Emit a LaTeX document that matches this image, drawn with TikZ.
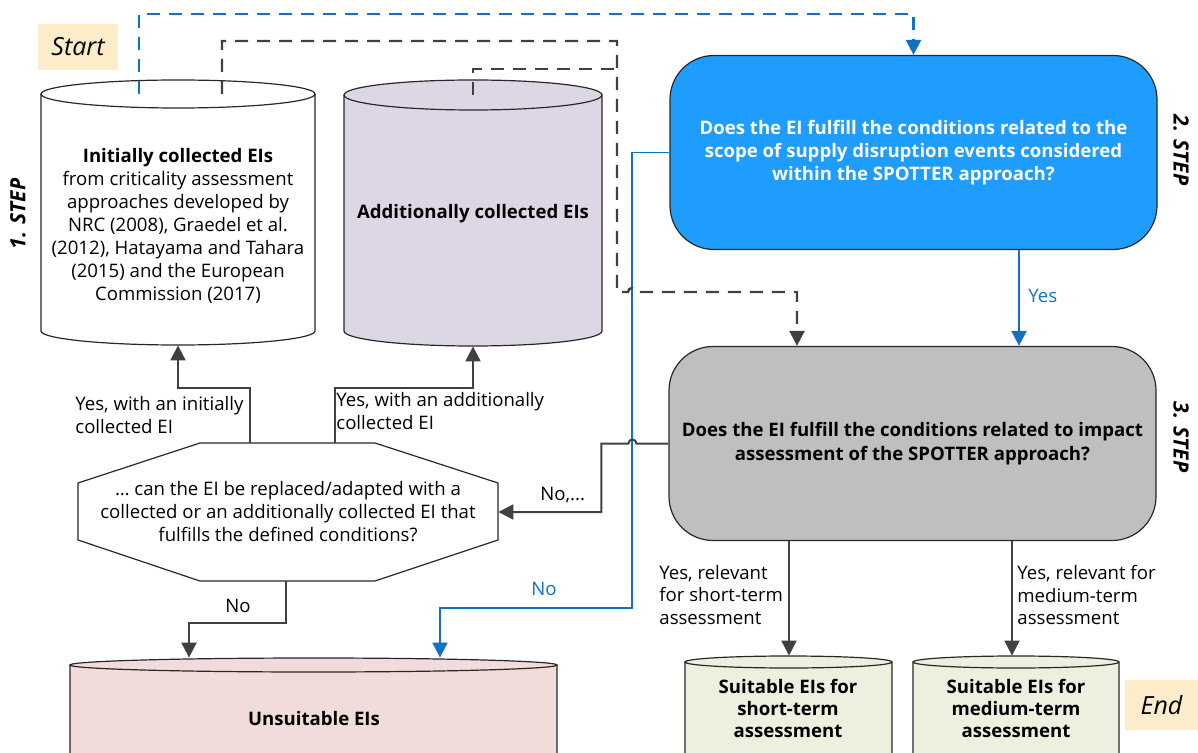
\documentclass[tikz,border=0pt]{standalone}
\usepackage{fontspec}
\setmainfont{Open Sans}
\usetikzlibrary{arrows.meta}

\definecolor{bluefill}{RGB}{31,157,255}
\definecolor{blueline}{RGB}{16,114,196}
\definecolor{darkline}{RGB}{64,64,64}
\definecolor{grayfill}{RGB}{191,191,191}
\definecolor{lavender}{RGB}{221,215,229}
\definecolor{rosefill}{RGB}{242,220,219}
\definecolor{greenfill}{RGB}{235,241,222}
\definecolor{tagfill}{RGB}{253,236,201}
\definecolor{outline}{RGB}{40,40,40}

% drum (cylinder): name, x left, x right, y of top ellipse centre,
% y of bottom ellipse centre, ellipse half height, fill colour
\newcommand\drumshape[7]{%
  \pgfmathsetmacro\drumrx{(#3-#2)/4}%
  \pgfmathsetmacro\drumry{#6/2}%
  \pgfmathsetmacro\drumcx{(#2+#3)/2}%
  \pgfmathsetmacro\drumcy{(#4+#5)/2}%
  \pgfmathsetmacro\drumw{(#3-#2)/2}%
  \pgfmathsetmacro\drumh{(#5-#4+2*#6)/2}%
  \fill[#7] (#2,#4) rectangle (#3,#5);
  \fill[#7] (\drumcx,#5) ellipse[x radius=\drumrx pt, y radius=\drumry pt];
  \draw[drumline] (#2,#4) -- (#2,#5)
    arc[start angle=180, end angle=360, x radius=\drumrx pt, y radius=\drumry pt]
    -- (#3,#4);
  \draw[drumline, fill=#7] (\drumcx,#4) ellipse[x radius=\drumrx pt, y radius=\drumry pt];
  \coordinate (#1-top) at (\drumcx,#4);
  \node[inner sep=0, minimum width=\drumw pt, minimum height=\drumh pt] (#1) at (\drumcx,\drumcy) {};
}

\begin{document}
\begin{tikzpicture}[x=0.5pt, y=-0.5pt,
  body/.style={font=\fontsize{9.3}{11.5}\selectfont, align=center, inner sep=0},
  bodyleft/.style={font=\fontsize{9.3}{11.3}\selectfont, align=left, inner sep=0},
  boldbody/.style={font=\fontsize{9.3}{11.5}\selectfont\bfseries, align=center, inner sep=0},
  drumline/.style={draw=outline, line width=0.6pt},
  tip/.style={-{Triangle[length=7.5pt, width=7.5pt]}},
  grayline/.style={draw=darkline, line width=1pt, tip},
  graydash/.style={draw=darkline, line width=1.2pt, dash pattern=on 6.5pt off 4.5pt},
  bluesolid/.style={draw=blueline, line width=0.9pt, tip},
  bluedash/.style={draw=blueline, line width=1.2pt, dash pattern=on 6.5pt off 4.5pt},
  question/.style={rectangle, rounded corners=22pt, draw=outline, line width=0.6pt,
    minimum width=243.5pt, minimum height=97pt, align=center,
    font=\fontsize{9.3}{11.5}\selectfont\bfseries},
  tag/.style={fill=tagfill, inner sep=0, font=\fontsize{12.5}{14}\selectfont\itshape},
  steplabel/.style={font=\fontsize{10.5}{12}\selectfont\bfseries\itshape, inner sep=0},
]
\clip (0,0) rectangle (1198,753);

% start and end tags
\node[tag, minimum width=40pt, minimum height=23pt] (start) at (78,47) {Start};
\node[tag, minimum width=37pt, minimum height=25pt] (end) at (1161.5,705) {End};

% step labels
\node[steplabel, rotate=90] (step1) at (18,214) {1. STEP};
\node[steplabel, rotate=-90] (step2) at (1181,150) {2. STEP};
\node[steplabel, rotate=-90] (step3) at (1181,437) {3. STEP};

% collections of EIs
\drumshape{c1}{41}{315}{94}{331}{14}{white}
\node[body] (c1text) at (178,226) {\textbf{Initially collected EIs}\\from criticality assessment\\approaches developed by\\NRC (2008), Graedel et al.\\(2012), Hatayama and Tahara\\(2015) and the European\\Commission (2017)};
\drumshape{c2}{344}{602}{95}{331}{15}{lavender}
\node[boldbody] (c2text) at (473,214) {Additionally collected EIs};

% results
\drumshape{unsuit}{70}{557}{665}{800}{7}{rosefill}
\node[boldbody] (unsuittext) at (314,719) {Unsuitable EIs};
\drumshape{short}{685}{892}{662}{800}{6}{greenfill}
\node[body, font=\fontsize{9.3}{11}\selectfont\bfseries] (shorttext) at (788,708) {Suitable EIs for\\short-term\\assessment};
\drumshape{medium}{913}{1119}{662}{800}{6}{greenfill}
\node[body, font=\fontsize{9.3}{11}\selectfont\bfseries] (mediumtext) at (1016,708) {Suitable EIs for\\medium-term\\assessment};

% decision boxes
\node[question, fill=bluefill, text=white] (scope) at (913.5,152.5)
  {Does the EI fulfill the conditions related to the\\scope of supply disruption events considered\\within the SPOTTER approach?};
\node[question, fill=grayfill, font=\fontsize{9.3}{12}\selectfont\bfseries] (impact) at (912.5,443.5)
  {Does the EI fulfill the conditions related to impact\\assessment of the SPOTTER approach?};

% replacement question (octagon)
\draw[draw=outline, line width=0.6pt, fill=white]
  (200,443) -- (375,443) -- (498,483) -- (498,540) -- (375,581)
  -- (200,581) -- (78,540) -- (78,483) -- cycle;
\node[body, minimum width=210pt, minimum height=69pt] (replace) at (288,512)
  {… can the EI be replaced/adapted with a\\collected or an additionally collected EI that\\fulfills the defined conditions?};

% blue connectors
\draw[bluedash, tip] (c1-top -| 139,0) -- (139,14) -| (scope.north);
\draw[bluesolid] (scope.south -| 1019,0) -- (impact.north -| 1019,0);
\node[body, text=blueline, anchor=west] (yeslbl) at (1028,296) {Yes};
\draw[bluesolid] (scope.west) -| (632,608) -| (unsuit.north -| 440,0);
\node[body, text=blueline] (nolbl) at (544,589) {No};

% dashed connectors from the collections
\draw[graydash, tip] (c1-top -| 222,0) -- (222,41) -- (617,41) -- (617,292) -- (628,292)
  arc[start angle=180, end angle=0, radius=2pt] -- (797,292) -- (impact.north -| 797,0);
\draw[graydash] (c2-top -| 473,0) -- (473,69) -- (617,69);

% solid connectors
\draw[grayline] (impact.west) -- ++(-32,0)
  arc[start angle=0, end angle=180, radius=2pt] -- ++(-27,0) |- (replace.east);
\node[body, anchor=west] (nomore) at (540,495) {No,...};

\draw[grayline] (replace.north -| 250,0) -- (250,388) -| (c1.south);
\node[bodyleft, anchor=west] (yes1) at (75,415) {Yes, with an initially\\collected EI};
\draw[grayline] (replace.north -| 335,0) -- (335,388) -| (c2.south);
\node[bodyleft, anchor=west] (yes2) at (336,411) {Yes, with an additionally\\collected EI};

\draw[grayline] (replace.south -| 286,0) -- (286,623) -| (unsuit.north -| 189,0);
\node[body] (nolbl2) at (238,606) {No};

\draw[grayline] (impact.south -| 789,0) -- (short.north -| 789,0);
\node[bodyleft, anchor=west] (yes3) at (659,595) {Yes, relevant\\for short-term\\assessment};
\draw[grayline] (impact.south -| 1012,0) -- (medium.north -| 1012,0);
\node[bodyleft, anchor=west] (yes4) at (1017,595) {Yes, relevant for\\medium-term\\assessment};
\end{tikzpicture}
\end{document}
